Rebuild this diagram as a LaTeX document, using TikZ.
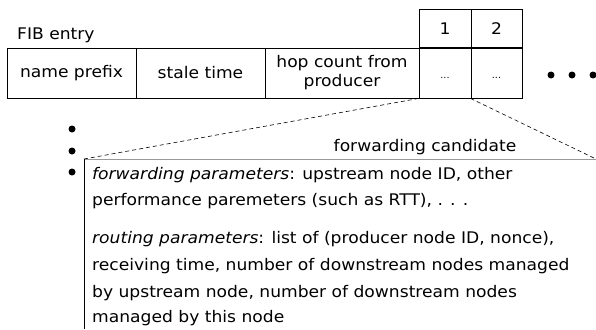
\documentclass[tikz,border=0pt]{standalone}
\usepackage{fontspec}
\setmainfont[FakeStretch=1.07]{DejaVu Sans}
\begin{document}
\begin{tikzpicture}[x=1pt,y=-1pt,
  cell/.style={draw=black,line width=0.9pt,inner sep=0pt,minimum height=50pt,align=center,font=\fontsize{16}{19}\selectfont},
  head/.style={draw=black,line width=0.9pt,inner sep=0pt,minimum height=38pt,minimum width=52pt,font=\fontsize{16}{19}\selectfont},
  txt/.style={inner sep=0pt,anchor=base west,font=\fontsize{16}{19}\selectfont},
  bigdot/.style={circle,fill=black,inner sep=0pt,minimum size=7pt},
  dashln/.style={line width=0.6pt,dash pattern=on 4pt off 3pt}]
\useasboundingbox (0,0) rectangle (596,329);
% table
\node[cell,minimum width=129pt] (prefix) at (71.5,73) {name prefix};
\node[cell,minimum width=129pt] (stale) at (200.5,73) {stale time};
\node[cell,minimum width=154pt] (hop) at (342,73) {hop count from\\producer};
\node[cell,minimum width=52pt] (c1) at (445,73) {};
\node[cell,minimum width=51pt] (c2) at (496.5,73) {};
\node[inner sep=0pt,font=\fontsize{9}{10}\selectfont] (d1) at (445,78) {...};
\node[inner sep=0pt,font=\fontsize{9}{10}\selectfont] (d2) at (496.5,78) {...};
\node[head] (h1) at (445,28.5) {1};
\node[head,minimum width=51pt] (h2) at (496.5,28.5) {2};
\node[txt] (fib) at (17,40) {FIB entry};
% dots
\node[bigdot] (r1) at (551,75) {};
\node[bigdot] (r2) at (572,75) {};
\node[bigdot] (r3) at (593,75) {};
\node[bigdot] (v1) at (72,129) {};
\node[bigdot] (v2) at (72,151) {};
\node[bigdot] (v3) at (72,172) {};
% candidate box
\coordinate (boxTL) at (84,159);
\coordinate (boxTR) at (596,159);
\coordinate (boxBL) at (84,329);
\draw[dashln] (c1.south west) -- (boxTL);
\draw[dashln] (c2.south west) -- (boxTR);
\draw[line width=0.8pt,black!40] (boxTL) -- (boxTR);
\draw[line width=0.9pt] (boxTL) -- (boxBL);
\node[inner sep=0pt,anchor=base,font=\fontsize{16}{19}\selectfont] (cand) at (425,151) {forwarding candidate};
\node[txt] (l1) at (92,179) {\textit{forwarding parameters}: upstream node ID, other};
\node[txt] (l2) at (92,205) {performance paremeters (such as RTT), . . .};
\node[txt] (l3) at (92,243) {\textit{routing parameters}: list of (producer node ID, nonce),};
\node[txt] (l4) at (92,270) {receiving time, number of downstream nodes managed};
\node[txt] (l5) at (92,297) {by upstream node, number of downstream nodes};
\node[txt] (l6) at (92,322) {managed by this node};
\end{tikzpicture}
\end{document}
